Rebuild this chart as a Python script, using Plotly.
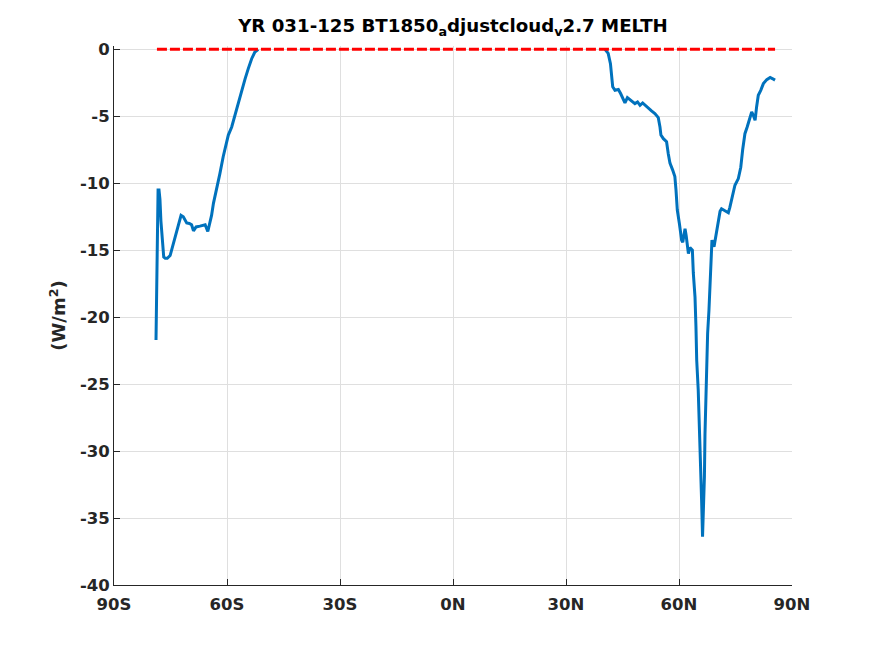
import plotly.graph_objects as go

# Southern hemisphere segment (latitude, W/m^2)
lat_s = [-78.85, -78.7, -78.5, -78.3, -78.05, -77.8, -77.55, -77.2, -76.8, -76.4, -75.85, -75.1,
         -74.2, -73.35, -72.65, -72.2, -71.6, -70.7, -70.0, -69.4, -68.9, -68.2, -67.2, -65.8,
         -65.1, -64.7, -64.1, -63.6, -62.75, -61.9, -61.0, -60.3, -59.65, -58.75, -57.9, -57.0,
         -56.1, -55.2, -54.35, -53.45, -52.6, -51.7]
val_s = [-21.7, -17.7, -14.0, -10.5, -10.5, -11.2, -12.8, -14.25, -15.5, -15.6, -15.6, -15.4,
         -14.5, -13.5, -12.9, -12.4, -12.5, -12.96, -13.0, -13.1, -13.56, -13.26, -13.2, -13.1,
         -13.6, -13.1, -12.4, -11.5, -10.5, -9.3, -8.0, -7.04, -6.4, -5.8, -4.9, -3.93,
         -3.06, -2.2, -1.44, -0.7, -0.2, 0.0]

# Northern hemisphere segment
lat_n = [40.35, 41.2, 41.8, 42.1, 42.4, 43.0, 43.9, 44.5, 45.2, 45.65, 46.3, 47.0, 47.7, 48.3,
         49.0, 49.65, 50.35, 51.0, 51.85, 52.7, 53.6, 54.5, 54.95, 55.2, 55.85, 56.7, 57.15,
         57.6, 58.3, 58.9, 59.2, 59.55, 60.1, 60.7, 61.0, 61.6, 61.9, 62.5, 62.9, 63.55,
         63.8, 64.25, 64.5, 64.7, 65.1, 65.4, 65.6, 65.8, 66.0, 66.25, 66.6, 66.75, 66.9,
         67.1, 67.3, 67.6, 67.95, 68.2, 68.5, 68.75, 69.3, 69.6, 70.0, 70.4, 70.9, 71.3,
         72.2, 73.1, 73.5, 74.25, 74.85, 75.75, 76.4, 76.9, 77.5, 78.1, 78.65, 79.3, 79.7,
         80.2, 80.6, 81.05, 81.7, 82.4, 83.3, 84.2, 84.9, 85.5]
val_n = [0.0, -0.3, -1.07, -1.8, -2.8, -3.06, -3.0, -3.3, -3.68, -4.0, -3.6, -3.76, -3.93, -4.05,
         -3.93, -4.18, -4.0, -4.18, -4.43, -4.6, -4.8, -5.1, -5.8, -6.4, -6.67, -6.9, -7.8,
         -8.5, -9.0, -9.5, -10.5, -12.0, -13.0, -14.25, -14.4, -13.4, -13.9, -15.25, -14.8, -15.0,
         -16.7, -18.5, -20.7, -23.2, -25.4, -27.7, -29.7, -31.9, -33.66, -36.4, -33.66, -31.9, -28.7,
         -26.2, -23.7, -21.2, -19.5, -17.7, -15.5, -14.25, -14.75, -14.25, -13.6, -12.8, -12.1, -11.9,
         -12.06, -12.2, -11.8, -11.0, -10.15, -9.65, -8.8, -7.5, -6.3, -5.8, -5.3, -4.68, -4.9,
         -5.3, -4.3, -3.43, -3.06, -2.56, -2.26, -2.1, -2.2, -2.3]

# Zero reference line extent
ref_lat = [-78.6, 85.5]
ref_val = [0, 0]

x_tickvals = [-90, -60, -30, 0, 30, 60, 90]
x_ticktext = ["90S", "60S", "30S", "0N", "30N", "60N", "90N"]
y_tickvals = [0, -5, -10, -15, -20, -25, -30, -35, -40]

# small headroom so the line at y=0 is not half-clipped
y_top = 0.25

fig = go.Figure()
fig.add_trace(go.Scatter(
    x=lat_s + [None] + lat_n, y=val_s + [None] + val_n,
    mode="lines", line=dict(color="#0072BD", width=3), connectgaps=False,
    showlegend=False, hoverinfo="skip"))
fig.add_trace(go.Scatter(
    x=ref_lat, y=ref_val, mode="lines",
    line=dict(color="#FF0000", width=3, dash="10px,3px"),
    showlegend=False, hoverinfo="skip"))

W, H = 867, 648
px_per_unit = 13.4
font_family = "DejaVu Sans"
fig.update_layout(
    width=W, height=H,
    paper_bgcolor="white", plot_bgcolor="white",
    margin=dict(l=106, r=83, t=41 - y_top * px_per_unit, b=71, autoexpand=False),
    font=dict(family=font_family, size=16.5, color="#262626"),
    title=dict(text="<b>YR 031-125 BT1850<sub>a</sub>djustcloud<sub>v</sub>2.7 MELTH</b>",
               x=445 / W, xanchor="center", y=1 - 18 / H, yanchor="middle",
               font=dict(family=font_family, size=18.2, color="black")),
)
fig.update_xaxes(
    range=[-90, 90], tickvals=x_tickvals, ticktext=["<b>%s</b>" % t for t in x_ticktext],
    showgrid=True, gridcolor="#DFDFDF", gridwidth=1,
    showline=True, linecolor="#262626", linewidth=1,
    ticks="inside", ticklen=6, tickcolor="#262626", zeroline=False,
    ticklabelstandoff=4,
    mirror=False, fixedrange=True, automargin=False)
fig.update_yaxes(
    range=[-40, y_top], tickvals=y_tickvals, ticktext=["<b>%d</b>" % v for v in y_tickvals],
    showgrid=True, gridcolor="#DFDFDF", gridwidth=1,
    showline=True, linecolor="#262626", linewidth=1,
    ticks="inside", ticklen=6, tickcolor="#262626", zeroline=False,
    title=dict(text="<b>(W/m<sup>2</sup>)</b>", standoff=9, font=dict(size=18)),
    fixedrange=True, automargin=False)

fig.write_html("out.html")
